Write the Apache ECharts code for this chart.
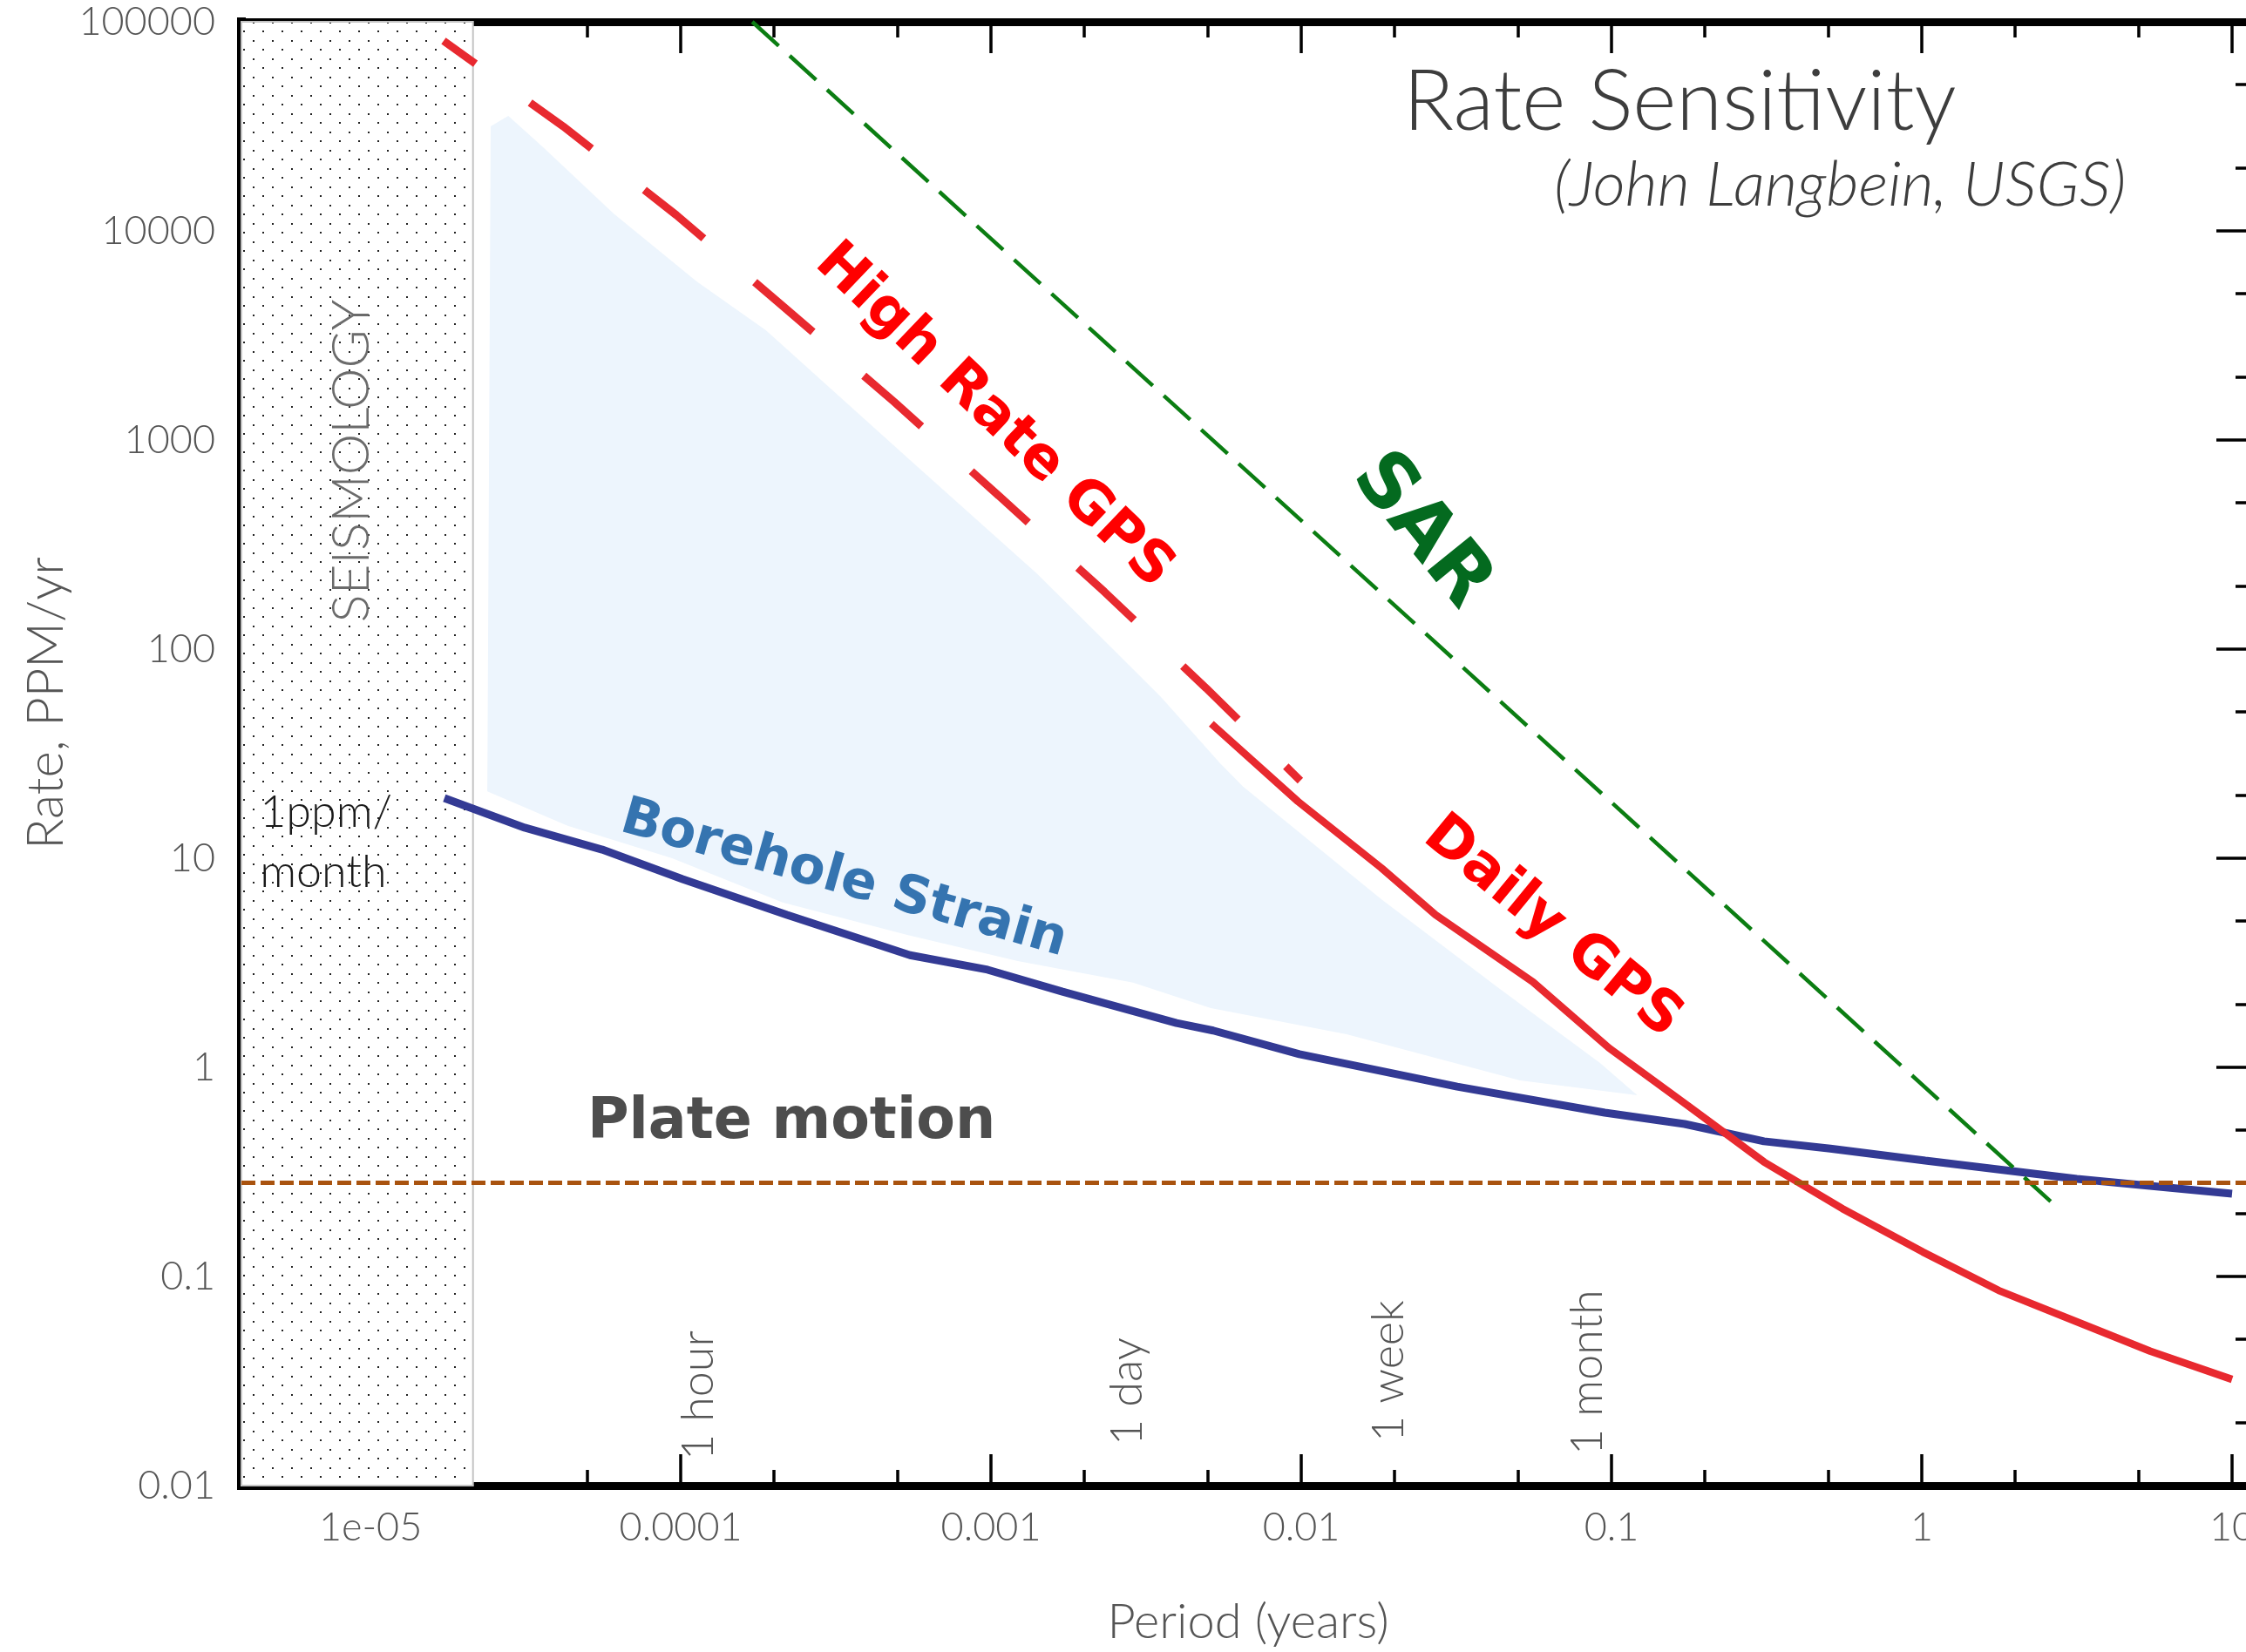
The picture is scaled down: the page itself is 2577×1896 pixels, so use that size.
<!DOCTYPE html>
<html>
<head>
  <meta charset="utf-8">
  <title>Rate Sensitivity</title>
  <script src="https://cdn.jsdelivr.net/npm/echarts@6/dist/echarts.min.js"></script>
  <style>
    html, body { margin: 0; padding: 0; background: #fff; }
    #main { width: 2577px; height: 1896px; }
  </style>
</head>
<body>
  <div id="main"></div>
  <script type="text/javascript">
    // periods in years, rates in ppm/yr
    var xTickValues = [1e-5, 1e-4, 1e-3, 0.01, 0.1, 1, 10];
    var xTickLabels = ['1e-05', '0.0001', '0.001', '0.01', '0.1', '1', '10'];
    var yTickValues = [0.01, 0.1, 1, 10, 100, 1000, 10000, 100000];
    var yTickLabels = ['0.01', '0.1', '1', '10', '100', '1000', '10000', '100000'];

    var sarPeriod = [1.70e-4, 2.80];
    var sarRate = [100000, 0.207];

    var hrGpsPeriod = [1.72e-5, 4.18e-5, 9.68e-5, 2.16e-4, 4.88e-4, 1.06e-3, 2.32e-3, 4.94e-3, 9.93e-3];
    var hrGpsRate = [81000, 31600, 11900, 4300, 1520, 541, 188, 65, 23.5];

    var dailyGpsPeriod = [5.13e-3, 9.75e-3, 0.0181, 0.0271, 0.0558, 0.0982, 0.178, 0.310, 0.555, 1.007, 1.77, 3.16, 5.45, 10];
    var dailyGpsRate = [44.0, 18.7, 9.0, 5.36, 2.56, 1.236, 0.649, 0.353, 0.211, 0.131, 0.0857, 0.0607, 0.0439, 0.0322];

    var boreholePeriod = [1.73e-5, 3.14e-5, 5.58e-5, 1.014e-4, 2.20e-4, 5.48e-4, 9.75e-4, 1.70e-3, 3.96e-3, 5.20e-3, 9.86e-3, 0.0318, 0.0951, 0.172, 0.310, 0.507, 1.026, 3.16, 10];
    var boreholeRate = [19.4, 14.0, 11.0, 7.94, 5.36, 3.44, 2.93, 2.30, 1.63, 1.50, 1.156, 0.809, 0.607, 0.536, 0.443, 0.409, 0.358, 0.293, 0.249];

    // light blue region behind the borehole curve (outline, clockwise)
    var shadePeriod = [2.38e-5, 2.44e-5, 2.78e-5, 3.60e-5, 6.08e-5, 1.125e-4, 1.88e-4, 5.52e-4, 1.40e-3, 2.44e-3, 3.53e-3, 5.48e-3, 6.49e-3, 0.0181, 0.0429, 0.0918, 0.121, 0.0507, 0.0140, 5.11e-3, 2.87e-3, 1.22e-3, 5.37e-4, 2.13e-4, 9.38e-5, 4.32e-5];
    var shadeRate = [20.9, 31600, 35500, 25100, 12100, 5730, 3350, 794, 231, 102, 59.0, 28.4, 22.0, 6.37, 2.42, 1.05, 0.736, 0.865, 1.44, 1.92, 2.54, 3.22, 4.30, 6.14, 10.0, 14.3];

    var plateRate = 0.28;
    var seismoEdge = 2.14e-5;

    var markNames = ['1 hour', '1 day', '1 week', '1 month'];
    var markPeriods = [1 / 8766, 1 / 365.25, 7 / 365.25, 1 / 12];

    var L = Math.log10;
    // axis range in log10 units
    var XMIN = -5.416, XMAX = 1.073, YMIN = -2, YMAX = 5;

    function pts(px, py) {
      return px.map(function (p, i) { return [L(p), L(py[i])]; });
    }
    function minorTicks(majors, lo, hi) {
      var out = [];
      majors.concat([majors[0] / 10]).forEach(function (m) {
        [2, 5].forEach(function (k) {
          var v = L(m * k);
          if (v > lo && v < hi) out.push(v);
        });
      });
      return out;
    }
    function labelFor(values, labels) {
      return function (v) {
        for (var i = 0; i < values.length; i++) {
          if (Math.abs(L(values[i]) - v) < 1e-6) return labels[i];
        }
        return '';
      };
    }

    var xMajor = xTickValues.map(L), yMajor = yTickValues.map(L);
    var xMinor = minorTicks(xTickValues, XMIN, XMAX);
    var yMinor = minorTicks(yTickValues, YMIN, YMAX);

    var thin = { fontFamily: 'Lato', fontWeight: 300, color: '#555' };
    var bold = { fontFamily: 'DejaVu Sans', fontWeight: 'bold' };

    function axis(type, pos, ticks, len, line, label) {
      var a = {
        type: 'value', position: pos,
        min: type === 'x' ? XMIN : YMIN, max: type === 'x' ? XMAX : YMAX,
        axisLine: { show: line, onZero: false, lineStyle: { color: '#000', width: 9, cap: 'square' } },
        axisTick: { show: true, inside: true, length: len, customValues: ticks, lineStyle: { color: '#000', width: 3.5 } },
        axisLabel: { show: false },
        splitLine: { show: false },
        nameMoveOverlap: false
      };
      if (label) a.axisLabel = label;
      return a;
    }

    // dotted texture for the seismology band
    var dots = document.createElement('canvas');
    dots.width = 22; dots.height = 21;
    var g = dots.getContext('2d');
    g.fillStyle = '#ffffff'; g.fillRect(0, 0, 22, 21);
    g.fillStyle = '#222';
    g.fillRect(4, 4, 2, 2);
    g.fillRect(15, 14, 2, 2);

    function note(text, period, rate, label) {
      var l = Object.assign({ show: true, position: 'inside', formatter: text, opacity: 1 }, label);
      return { value: [L(period), L(rate)], label: l };
    }

    var xBottom = axis('x', 'bottom', xMajor, 36, true, Object.assign({
      show: true, customValues: xMajor, margin: 26, fontSize: 45,
      formatter: labelFor(xTickValues, xTickLabels)
    }, thin));
    xBottom.name = 'Period (years)';
    xBottom.nameLocation = 'middle';
    xBottom.nameGap = 129;
    xBottom.nameTextStyle = Object.assign({ fontSize: 56 }, thin);

    var yLeft = axis('y', 'left', yMajor, 44, true, Object.assign({
      show: true, customValues: yMajor, margin: 30, fontSize: 45,
      formatter: labelFor(yTickValues, yTickLabels)
    }, thin));
    yLeft.axisLine.lineStyle.width = 10;
    yLeft.name = 'Rate, PPM/yr';
    yLeft.nameLocation = 'middle';
    yLeft.nameGap = 195;
    yLeft.nameRotate = 90;
    yLeft.nameTextStyle = Object.assign({ fontSize: 58, padding: [0, 0, 0, 116] }, thin);

    var myChart = echarts.init(document.getElementById('main'));
    myChart.setOption({
      animation: false,
      backgroundColor: '#fff',
      title: [{
        text: 'Rate Sensitivity', left: 1610, top: 70, padding: 0,
        textStyle: { fontFamily: 'Lato', fontWeight: 300, fontSize: 96, color: '#3d3d3d' }
      }, {
        text: '(John Langbein, USGS)', left: 1783, top: 177, padding: 0,
        textStyle: { fontFamily: 'Lato', fontWeight: 300, fontStyle: 'italic', fontSize: 72, color: '#3d3d3d' }
      }],
      grid: { left: 277, top: 25, width: 2310, height: 1680, containLabel: false, outerBoundsMode: 'none' },
      xAxis: [
        xBottom,
        axis('x', 'bottom', xMinor, 18, false),
        axis('x', 'top', xMajor, 36, true),
        axis('x', 'top', xMinor, 18, false)
      ],
      yAxis: [
        yLeft,
        axis('y', 'left', yMinor, 20, false),
        axis('y', 'right', yMajor, 44, false),
        axis('y', 'right', yMinor, 22, false)
      ],
      series: [
        {
          type: 'custom', name: 'shade', silent: true, z: 1,
          data: pts(shadePeriod, shadeRate),
          renderItem: function (params, api) {
            if (params.dataIndex !== 0) return;
            var poly = pts(shadePeriod, shadeRate).map(function (p) { return api.coord(p); });
            return { type: 'polygon', shape: { points: poly }, style: { fill: '#edf5fd' } };
          },
          markArea: {
            silent: true,
            itemStyle: { color: { image: dots, repeat: 'repeat' }, opacity: 1, borderColor: '#c4c4c4', borderWidth: 2 },
            label: { show: false },
            data: [[{ xAxis: XMIN, yAxis: YMIN }, { xAxis: L(seismoEdge), yAxis: YMAX }]]
          }
        },
        {
          type: 'line', name: 'Borehole Strain', data: pts(boreholePeriod, boreholeRate),
          symbol: 'none', silent: true, z: 3,
          lineStyle: { color: '#333a94', width: 9 }
        },
        {
          type: 'line', name: 'SAR', data: pts(sarPeriod, sarRate),
          symbol: 'none', silent: true, z: 3,
          lineStyle: { color: '#0b7d12', width: 4.5, type: [41, 17] },
          markLine: {
            silent: true, symbol: ['none', 'none'], label: { show: false },
            lineStyle: { color: '#a9530f', width: 5, type: [16, 6], opacity: 1 },
            data: [{ yAxis: L(plateRate) }]
          }
        },
        {
          type: 'line', name: 'High Rate GPS', data: pts(hrGpsPeriod, hrGpsRate),
          symbol: 'none', silent: true, z: 3,
          lineStyle: { color: '#e8292f', width: 9, type: [88, 77], dashOffset: 43 }
        },
        {
          type: 'line', name: 'Daily GPS', data: pts(dailyGpsPeriod, dailyGpsRate),
          symbol: 'none', silent: true, z: 3,
          lineStyle: { color: '#e8292f', width: 8.5 }
        },
        {
          type: 'scatter', name: 'notes', symbolSize: 1, silent: true, z: 10,
          itemStyle: { color: 'transparent', opacity: 1 },
          data: [
            note('High Rate GPS', 1.02e-3, 1297, Object.assign({ rotate: -43.7, fontSize: 66, color: '#ff0000' }, bold)),
            note('SAR', 0.0243, 366, Object.assign({ rotate: -51, fontSize: 88, color: '#046a1f' }, bold)),
            note('Daily GPS', 0.0644, 4.65, Object.assign({ rotate: -39.4, fontSize: 66, color: '#ff0000' }, bold)),
            note('Borehole Strain', 3.35e-4, 7.87, Object.assign({ rotate: -15.8, fontSize: 60, color: '#3574b0' }, bold)),
            note('Plate motion', 5.0e-5, 0.541, Object.assign({ align: 'left', fontSize: 65, color: '#4d4d4d' }, bold)),
            note('SEISMOLOGY', 8.73e-6, 794, { rotate: 90, fontSize: 60, fontFamily: 'Lato', fontWeight: 300, color: '#6b6b6b' }),
            note('1ppm/\nmonth', 4.40e-6, 11.9, { align: 'left', fontSize: 52, lineHeight: 69, fontFamily: 'Lato', fontWeight: 300, color: '#1a1a1a' })
          ].concat(markNames.map(function (name, i) {
            var base = [0.0132, 0.01556, 0.01615, 0.0140][i];
            return note(name, markPeriods[i], base, { rotate: 90, align: 'left', fontSize: 52, fontFamily: 'Lato', fontWeight: 300, color: '#555' });
          }))
        }
      ]
    });
  </script>
</body>
</html>
